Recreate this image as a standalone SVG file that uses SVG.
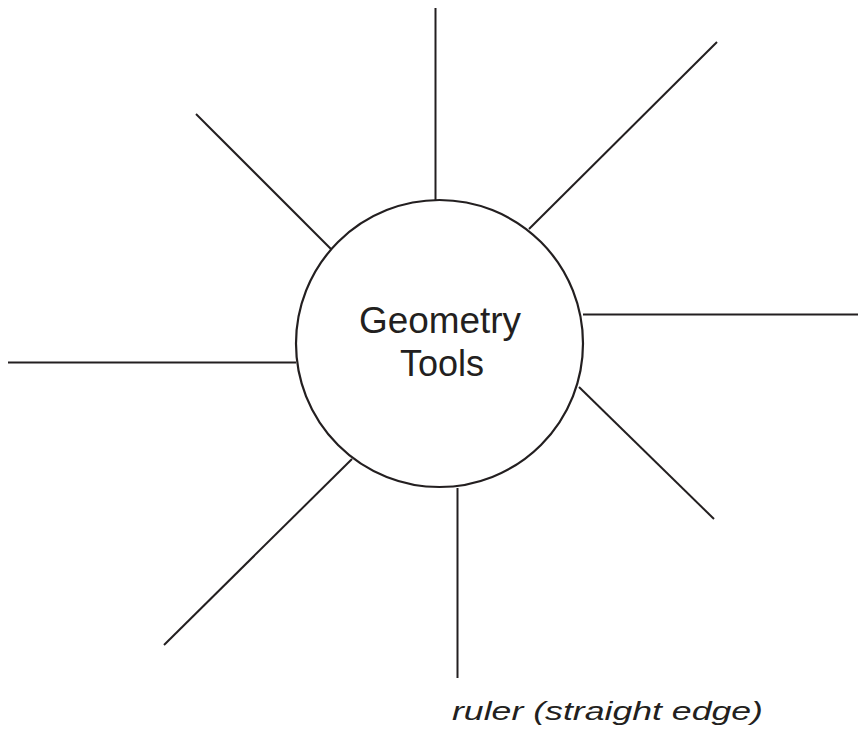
<svg xmlns="http://www.w3.org/2000/svg" width="858" height="729" viewBox="0 0 858 729">
<style>
.spoke{stroke:#231f20;stroke-width:2;fill:none;stroke-linecap:butt}
.hub{fill:#fff;stroke:#231f20;stroke-width:2.2}
.title{font-family:"Liberation Sans","Noto Sans",sans-serif;font-size:36px;fill:#231f20;text-anchor:middle}
.hand{font-family:"Liberation Sans","DejaVu Sans",sans-serif;font-style:italic;font-size:26px;fill:#231f20}
</style>
<rect width="858" height="729" fill="#fff"/>
<g id="connectors">
<line class="spoke" x1="435.5" y1="8" x2="435.5" y2="200"/>
<line class="spoke" x1="717" y1="42" x2="529" y2="229"/>
<line class="spoke" x1="583" y1="314.5" x2="858" y2="314.5"/>
<line class="spoke" x1="579" y1="387" x2="714" y2="519"/>
<line class="spoke" x1="457.5" y1="488" x2="457.5" y2="678"/>
<line class="spoke" x1="164" y1="645" x2="352" y2="459"/>
<line class="spoke" x1="8" y1="362.5" x2="296" y2="362.5"/>
<line class="spoke" x1="196" y1="114" x2="331" y2="249"/>
</g>
<g id="hub">
<circle class="hub" cx="439.5" cy="343.5" r="143.5"/>
<text class="title" x="440" y="333" textLength="162" lengthAdjust="spacingAndGlyphs">Geometry</text>
<text class="title" x="442" y="376">Tools</text>
</g>
<g id="label-ruler">
<text class="hand" x="452" y="720" textLength="311" lengthAdjust="spacingAndGlyphs">ruler (straight edge)</text>
</g>
</svg>
